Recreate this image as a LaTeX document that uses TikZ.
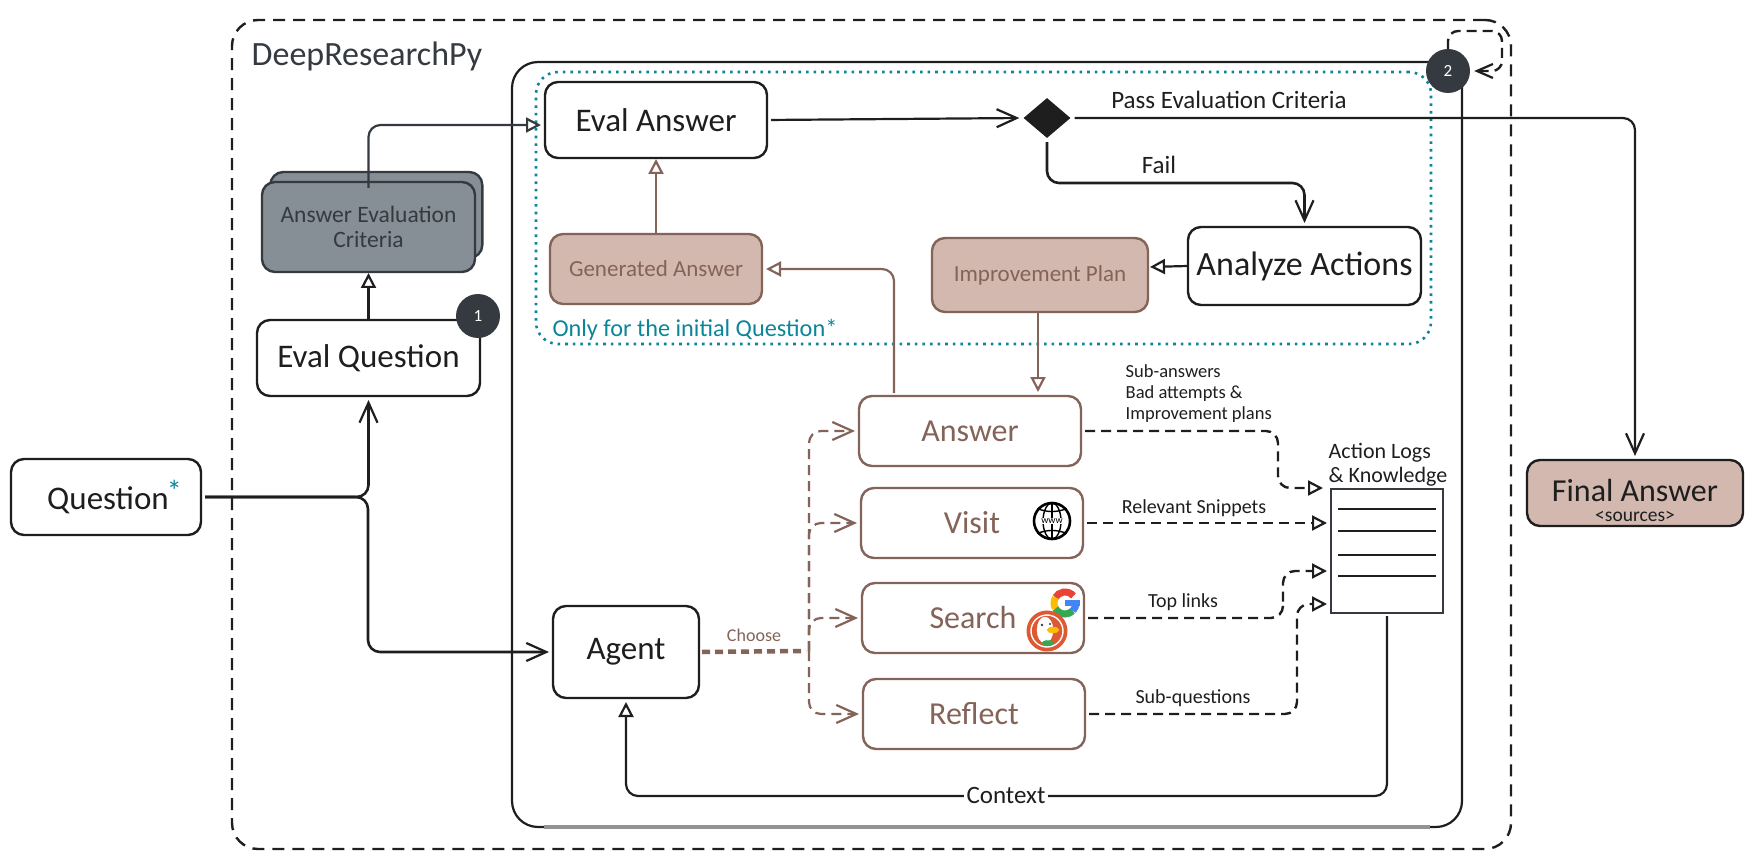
\documentclass[tikz,border=0pt]{standalone}
\usepackage{fontspec}
\setmainfont{Carlito}
\usetikzlibrary{positioning,arrows.meta,shapes.geometric}
\definecolor{inkblack}{HTML}{1E1E1E}
\definecolor{slatedark}{HTML}{343A40}
\definecolor{slatefill}{HTML}{868E96}
\definecolor{brownline}{HTML}{846358}
\definecolor{brownfill}{HTML}{D2B8AE}
\definecolor{tealline}{HTML}{0C8599}
\definecolor{googlered}{HTML}{EA4335}
\definecolor{googleyellow}{HTML}{FBBC05}
\definecolor{googlegreen}{HTML}{34A853}
\definecolor{googleblue}{HTML}{4285F4}
\definecolor{duckred}{HTML}{DE5833}

\begin{document}
\begin{tikzpicture}[x=1pt,y=-1pt,
box/.style={draw=inkblack,line width=2.4pt,rounded corners=13pt,fill=white,outer sep=0pt,text=inkblack,font=\fontsize{33}{35}\selectfont},
actionbox/.style={box,draw=brownline,text=brownline,minimum width=222pt,minimum height=70pt,font=\fontsize{32}{34}\selectfont},
notebox/.style={box,draw=brownline,fill=brownfill,text=brownline,font=\fontsize{23}{25}\selectfont},
frame/.style={draw=inkblack,rounded corners=26pt,outer sep=0pt},
badge/.style={circle,fill=slatedark,text=white,minimum size=44pt,inner sep=0pt,font=\fontsize{17}{18}\selectfont},
smalltext/.style={text=inkblack,inner sep=0pt,font=\fontsize{20}{21}\selectfont},
flow/.style={draw=inkblack,line width=2.2pt,rounded corners=12pt,shorten >=4pt,shorten <=4pt},
barbtip/.style={-{Straight Barb[length=20pt,width=18pt,line width=2.2pt]}},
triangletip/.style={-{Triangle[open,length=15pt,width=15pt,line width=2.2pt]}},
dashflow/.style={flow,line width=2.4pt,dash pattern=on 10pt off 6pt},
brownflow/.style={flow,draw=brownline}]

\useasboundingbox (0,0) rectangle (1755,866);

% frames
\node (Outer) [frame,dash pattern=on 12pt off 8pt,line width=2.4pt,minimum width=1279pt,minimum height=829pt] at (871.5,434.5) {};
\node (Inner) [frame,line width=2.2pt,minimum width=950pt,minimum height=765pt] at (987,444.5) {};
\draw[draw=gray!85,line width=3.5pt] ([xshift=32pt]Inner.south west) -- ([xshift=-32pt]Inner.south east);
\node (Dotted) [draw=tealline,line width=2.6pt,dash pattern=on 2.6pt off 5pt,rounded corners=22pt,minimum width=895pt,minimum height=272pt,outer sep=0pt] at (983.5,208) {};

\node (Title) [text=slatedark,font=\fontsize{34}{36}\selectfont,inner sep=0pt] at (367,56) {DeepResearchPy};
\node (Only) [text=tealline,inner sep=0pt,font=\fontsize{24.3}{26}\selectfont] at (695,330) {Only for the initial Question*};

% boxes
\node (Question) [box,minimum width=190pt,minimum height=76pt] at (106,497) {\hspace{17pt}\raisebox{1pt}{Question}\hspace{-2pt}\raisebox{9pt}{\textcolor{tealline}{\fontsize{30}{30}\selectfont *}}};
\node (EvalQuestion) [box,minimum width=223pt,minimum height=76pt] at (368.5,358) {\raisebox{-1.5pt}{Eval Question}};
\node (CriteriaBack) [box,draw=slatedark,fill=slatefill,minimum width=212pt,minimum height=86pt] at (376.3,215) {};
\node (Criteria) [box,draw=slatedark,fill=slatefill,text=slatedark,minimum width=213pt,minimum height=90pt,align=center,above=48pt of EvalQuestion,font=\fontsize{23.5}{25}\selectfont] {Answer Evaluation\\Criteria};
\node (EvalAnswer) [box,minimum width=222pt,minimum height=76pt] at (656,120) {Eval Answer};
\node (Generated) [notebox,minimum width=212pt,minimum height=70pt,below=76pt of EvalAnswer] {Generated Answer};
\node (Decision) [diamond,fill=inkblack,minimum width=47pt,minimum height=40pt,inner sep=0pt] at (1047,118) {};
\node (Analyze) [box,minimum width=233pt,minimum height=78pt,font=\fontsize{34}{36}\selectfont] at (1304.5,266) {Analyze Actions};
\node (Improvement) [notebox,minimum width=216pt,minimum height=74pt,left=40pt of Analyze,yshift=-9pt] {Improvement Plan};
\node (Agent) [box,minimum width=146pt,minimum height=92pt] at (626,652) {Agent};

\node (Answer) [actionbox] at (970,431) {Answer};
\node (Visit) [actionbox,below=22pt of Answer,xshift=2pt] {Visit};
\node (Search) [actionbox,below=25pt of Visit,xshift=1pt] {Search\hspace{28pt}};
\node (Reflect) [actionbox,below=26pt of Search,xshift=1pt] {Reflect};

\node (Logs) [draw=slatedark,line width=2pt,fill=white,minimum width=112pt,minimum height=124pt,outer sep=0pt] at (1387,551) {};
\node (LogsLabel) [above=3pt of Logs,xshift=1pt,align=left,inner sep=0pt,text=inkblack,font=\fontsize{22}{24}\selectfont] {Action Logs\\\& Knowledge};
\draw[inkblack,line width=2pt] (1338,509) -- (1436,509);
\draw[inkblack,line width=2pt] (1338,531) -- (1436,531);
\draw[inkblack,line width=2pt] (1338,555) -- (1436,555);
\draw[inkblack,line width=2pt] (1338,576) -- (1436,576);

\node (Final) [box,fill=brownfill,minimum width=216pt,minimum height=66pt,align=center,inner sep=0pt,font=\fontsize{32}{32}\selectfont] at (1635,493) {\rule{0pt}{38pt}Final Answer\\[-12pt]{\fontsize{19.5}{19.5}\selectfont <sources>}};

% icons
\node (Globe) [circle,draw=black,fill=white,line width=2.6pt,minimum size=36pt,inner sep=0pt] at (1052,521) {};
\draw[black,line width=1.4pt] (Globe) ellipse [x radius=9pt,y radius=18pt];
\draw[black,line width=1.4pt] (Globe.north) -- (Globe.south);
\draw[black,line width=1.4pt] (Globe.140) to[bend right=20] (Globe.40);
\draw[black,line width=1.4pt] (Globe.220) to[bend left=20] (Globe.320);
\node (Www) [fill=white,inner sep=.6pt,text=black,font=\fontsize{10}{10}\selectfont] at (Globe) {www};
\coordinate (GoogleIcon) at (1065,603);
\draw[googlered,line width=7pt] ([shift={(40:11pt)}]GoogleIcon) arc [start angle=40,end angle=150,radius=11pt];
\draw[googleyellow,line width=7pt] ([shift={(150:11pt)}]GoogleIcon) arc [start angle=150,end angle=210,radius=11pt];
\draw[googlegreen,line width=7pt] ([shift={(210:11pt)}]GoogleIcon) arc [start angle=210,end angle=315,radius=11pt];
\draw[googleblue,line width=7pt] ([shift={(315:11pt)}]GoogleIcon) arc [start angle=315,end angle=360,radius=11pt];
\draw[googleblue,line width=6pt] (GoogleIcon) -- ++(14.5,0);
\node (DuckIcon) [circle,draw=duckred,fill=duckred,line width=3pt,minimum size=38pt,inner sep=0pt] at (1047,631) {};
\draw[white,line width=1.4pt] (DuckIcon) circle [radius=16pt];
\draw[white,fill=white] (1045,630) ellipse [x radius=8pt,y radius=13pt];
\draw[googleyellow,fill=googleyellow] (1053,630) ellipse [x radius=6pt,y radius=3pt];
\draw[googlegreen,fill=googlegreen] (1048,643) ellipse [x radius=6pt,y radius=2.5pt];
\fill[slatedark] (1042,625) circle [radius=1.4pt];
\fill[slatedark] (1050,624) circle [radius=1.2pt];

% connectors
\coordinate (QuestionSplit) at (368,497);
\draw[flow,barbtip,line width=2.6pt] (Question.east) -| (EvalQuestion.south);
\draw[flow,barbtip,line width=2.6pt] (Question.east) -- (QuestionSplit) |- (Agent.west);
\draw[flow,triangletip,shorten <=0pt,shorten >=1pt] (EvalQuestion.north) -- (Criteria.south);
\draw[flow,triangletip,draw=slatedark,shorten <=-6pt] (Criteria.north) |- ([yshift=-5pt]EvalAnswer.west);
\draw[brownflow,triangletip,shorten <=0pt,shorten >=1pt] (Generated.north) -- (EvalAnswer.south);
\draw[brownflow,triangletip,shorten <=3pt] ([xshift=35pt]Answer.north west) |- (Generated.east);
\draw[flow,barbtip] (EvalAnswer.east) -- (Decision.west);
\draw[flow,barbtip] (Decision.east) -| (Final.north);
\coordinate (DecisionBend) at (1047,183);
\draw[flow,barbtip,line width=2.6pt] (Decision.south) -- (DecisionBend) -| (Analyze.north);
\draw[flow,triangletip,shorten <=0pt,shorten >=2pt] (Analyze.west) -- ([yshift=8pt]Improvement.east);
\draw[brownflow,triangletip,shorten <=0pt] ([xshift=-2pt]Improvement.south) -- ([xshift=68pt]Answer.north);

\coordinate (ChooseHub) at (806,651);
\draw[draw=brownline,line width=4.5pt,dash pattern=on 8pt off 5pt] (Agent.east) ++(3,0) -- (ChooseHub);
\draw[brownflow,barbtip,dash pattern=on 10pt off 6pt,shorten <=0pt] (ChooseHub) ++(3,0) |- (Answer.west);
\draw[brownflow,barbtip,dash pattern=on 10pt off 6pt,shorten <=0pt] (ChooseHub) ++(3,0) |- (Visit.west);
\draw[brownflow,barbtip,dash pattern=on 10pt off 6pt,shorten <=0pt] (ChooseHub) ++(3,0) |- (Search.west);
\draw[brownflow,barbtip,dash pattern=on 10pt off 6pt,shorten <=0pt] (ChooseHub) ++(3,0) |- (Reflect.west);
\node (Choose) [text=brownline,inner sep=0pt,font=\fontsize{18}{20}\selectfont] at (754,635) {Choose};

\coordinate (AnswerBend) at (1278,460);
\coordinate (SearchBend) at (1283,595);
\coordinate (ReflectBend) at (1297,660);
\draw[dashflow,triangletip] (Answer.east) -| (AnswerBend) |- ([xshift=-4pt,yshift=63pt]Logs.west);
\draw[dashflow,triangletip] (Visit.east) -- ([yshift=28pt]Logs.west);
\draw[dashflow,triangletip] (Search.east) -| (SearchBend) |- ([yshift=-20pt]Logs.west);
\draw[dashflow,triangletip] (Reflect.east) -| (ReflectBend) |- ([yshift=-53pt]Logs.west);
\draw[flow,triangletip,shorten <=3pt] (Logs.south) |- (626,796) -- (Agent.south);
\node (Context) [fill=white,inner sep=3pt,text=inkblack,font=\fontsize{25}{26}\selectfont] at (1006,795) {Context};

\node (SubAnswers) [smalltext,align=left,anchor=west,font=\fontsize{18.5}{21}\selectfont] at (1125.5,394) {Sub-answers\\Bad attempts \&\\Improvement plans};
\node (Snippets) [smalltext] at (1194,508) {Relevant Snippets};
\node (TopLinks) [smalltext] at (1183,602) {Top links};
\node (SubQuestions) [smalltext] at (1193,698) {Sub-questions};
\node (Pass) [smalltext,font=\fontsize{25}{26}\selectfont] at (1229,100) {Pass Evaluation Criteria};
\node (Fail) [smalltext,font=\fontsize{25}{26}\selectfont] at (1159,165) {Fail};

% badges
\node (BadgeOne) [badge] at (478,316) {1};
\node (BadgeTwo) [badge] at (1448,71) {2};
\coordinate (LoopCorner) at (1502,31);
\draw[dashflow,-{Straight Barb[length=16pt,width=14pt,line width=2.2pt]},rounded corners=10pt,shorten <=0pt] (BadgeTwo.north) |- (LoopCorner) |- (BadgeTwo.east);

\end{tikzpicture}
\end{document}
